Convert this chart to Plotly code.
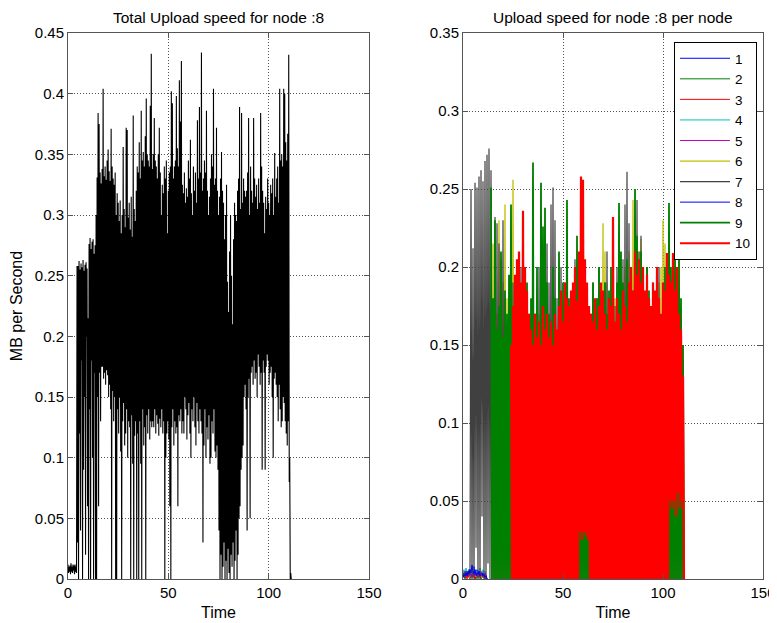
import plotly.graph_objects as go

# ---------------- data (values in thousandths of MB/s) ----------------
# Left panel: total upload speed, local peaks and troughs every 0.5 s
left_peaks = [12, 10, 11, 13, 10, 12, 11, 12, 10, 258,
              258, 262, 255, 260, 257, 263, 254, 259, 261, 256,
              215, 276, 281, 272, 278, 280, 268, 275,
              300, 331, 384, 375, 335, 326,
              338, 404, 332, 340, 329, 345, 354, 336, 328, 371, 340, 330, 325, 335,
              300, 318, 310, 295, 312, 285, 300, 356, 305, 290, 372, 370, 298, 310, 288, 315, 282, 382, 305, 295,
              320, 340, 335, 360, 330, 386, 345, 352, 340, 365, 396, 350, 345, 340, 390, 433,
              338, 350, 380, 345, 340, 330, 350, 372, 335, 300, 325, 318, 340, 330,
              345, 285, 320, 335, 340, 402, 392, 330, 340, 345, 398, 355, 340, 411, 377, 427,
              325, 318, 335, 310, 322, 315, 345, 330, 362, 318, 300, 340, 320, 335, 310, 378, 330, 389,
              335, 434, 320, 330, 345, 335, 386, 320, 300, 315, 330, 350, 340, 404, 325, 330, 372, 320,
              300, 315, 330, 352, 320, 310, 280, 300, 325, 245, 220, 270, 300, 250,
              210, 280, 310, 300, 295, 320, 330, 389, 305, 384, 310, 330, 320, 315,
              320, 335, 380, 300, 340, 320, 310, 380, 330, 315, 325, 305, 330, 310, 384, 340,
              320, 310, 285, 315, 305, 330, 310, 300, 325, 318, 330, 300, 351, 315,
              330, 340, 310, 404, 345, 350, 340, 404, 400, 360, 345, 367, 432, 100, 5]
left_troughs = [5, 6, 4, 6, 5, 7, 4, 6, 5, 30,
                0, 120, 40, 180, 0, 90, 150, 20, 200, 60,
                0, 140, 0, 180, 100, 0, 170, 0,
                0, 150, 60, 170, 130, 175,
                175, 165, 170, 160, 172, 168, 150, 160, 140, 0, 155, 130, 150, 0,
                0, 140, 120, 150, 105, 0, 130, 145, 110, 120, 140, 100, 130, 125, 0, 135, 95, 0, 118, 130,
                0, 120, 0, 130, 95, 0, 140, 110, 125, 0, 135, 120, 140, 115, 130, 125,
                130, 125, 140, 120, 135, 128, 118, 132, 125, 140, 120, 130, 0, 100,
                120, 130, 115, 60, 0, 125, 140, 110, 130, 120, 125, 60, 135, 130, 140, 120,
                130, 120, 150, 140, 115, 135, 145, 120, 100, 140, 130, 150, 125, 110, 145, 130, 120, 140,
                130, 120, 30, 110, 140, 100, 125, 115, 135, 95, 100, 130, 120, 140, 105, 100, 110, 90,
                40, 0, 20, 0, 10, 30, 0, 15, 0, 25, 5, 0, 20, 10,
                30, 0, 15, 40, 0, 20, 50, 60, 90, 100, 110, 150, 160, 140,
                40, 150, 165, 50, 170, 175, 160, 180, 165, 170, 150, 185, 175, 160, 170, 90,
                180, 170, 90, 175, 185, 180, 160, 170, 175, 150, 100, 165, 170, 160,
                150, 130, 160, 140, 125, 130, 150, 145, 130, 120, 110, 130, 80, 0, 0]

# Right panel: per-node upload speed, samples every 0.5 s
node_names = ["1", "2", "3", "4", "5", "6", "7", "8", "9", "10"]
node_start = [0, 0, 0, 0, 0, 14, 0, 0, 14, 24]
node1 = [2, 4, 1, 3, 5, 2, 4, 6, 3, 2, 5, 8, 4, 3, 6, 2, 4, 5, 3, 2, 4, 1, 3, 2, 0]
node2 = [1, 2, 0, 3, 1, 2, 1, 0, 2, 1, 3, 2, 1, 0, 2, 1, 1, 2, 0, 1, 2, 1, 0, 1, 0]
node3 = [3, 1, 4, 2, 0, 3, 1, 5, 2, 4, 1, 3, 0, 2, 4, 1, 3, 2, 5, 1, 2, 3, 1, 2, 0]
node4 = [4, 6, 3, 7, 5, 2, 6, 4, 3, 5, 7, 4, 6, 3, 5, 4, 6, 7, 5, 3, 6, 4, 5, 3, 0]
node5 = [2, 3, 5, 1, 4, 3, 2, 4, 1, 3, 5, 2, 3, 4, 2, 5, 3, 1, 4, 2, 3, 2, 4, 1, 0]
node6 = [120, 0, 215, 0, 200, 0, 170, 0, 230, 0, 150, 0, 190, 0, 240, 0, 180, 0, 160, 0,
         200, 0, 256, 0, 180, 0, 150, 0, 170, 0, 160, 0, 140, 0, 190, 0, 150, 0, 130, 0,
         150, 0, 130, 0, 160, 0, 140, 0, 170, 0, 150, 0, 130, 0, 175, 0, 140, 0, 160, 0,
         150, 0, 140, 0, 170, 0, 160, 0, 150, 0, 180, 0, 160, 0, 140, 0, 170, 0, 150, 0,
         160, 0, 150, 0, 170, 0, 145, 0, 160, 0, 175, 0, 150, 0, 165, 0, 140, 0, 155, 0,
         150, 0, 165, 0, 140, 0, 160, 0, 175, 0, 150, 0, 228, 0, 210, 0, 190, 0, 160, 0,
         170, 0, 150, 0, 180, 0, 160, 0, 175, 0, 190, 0, 170, 0, 200, 0, 180, 0, 210, 0,
         190, 0, 243, 0, 220, 0, 200, 0, 210, 0, 218, 0, 190, 0, 175, 0, 200, 0, 180, 0,
         170, 0, 185, 0, 160, 0, 175, 0, 190, 0, 200, 0, 230, 0, 215, 0, 180, 0, 165, 0,
         180, 0, 200, 0, 215, 0, 190, 0, 205, 0, 170, 0, 150, 0, 0]
node7 = [2, 4, 1, 5, 3, 2, 6, 3,
         250, 0, 212, 0, 254, 20, 251, 0, 258, 0, 262, 40, 255, 0, 268, 0, 272, 10, 276, 0,
         262, 0, 150, 0, 232, 0, 228, 0, 215, 0, 205, 0, 230, 0, 180, 0, 120, 0, 160, 0,
         140, 0, 190, 0, 150, 0, 170, 0, 130, 0, 200, 0, 150, 0, 185, 0, 140, 0, 170, 0,
         160, 0, 190, 0, 140, 0, 175, 0, 200, 0, 150, 0, 185, 0, 170, 0, 215, 0, 190, 0,
         240, 0, 251, 0, 230, 0, 180, 0, 160, 0, 200, 0, 150, 0, 190, 0, 170, 0, 150, 0,
         180, 0, 160, 0, 205, 0, 175, 0, 190, 0, 150, 0, 170, 0, 185, 0, 160, 0, 175, 0,
         150, 0, 190, 0, 170, 0, 180, 0, 200, 0, 160, 0, 175, 0, 190, 0, 210, 0, 180, 0,
         160, 0, 190, 0, 175, 0, 200, 0, 215, 0, 190, 0, 205, 0, 240, 0, 261, 0, 228, 0,
         200, 0, 185, 0, 230, 0, 243, 0, 210, 0, 220, 0, 195, 0, 180, 0, 200, 0, 170, 0,
         160, 0, 190, 0, 180, 0, 175, 0, 200, 0, 165, 0, 180, 0, 170, 0, 150, 0, 140, 0,
         120, 0, 150, 0, 160, 0, 140, 0, 130, 0, 120, 0, 100, 0, 0]
node8 = [1, 3, 2, 4, 2, 5, 3, 6, 4, 9, 5, 3, 6, 2, 4, 3, 5, 2, 3, 4, 2, 3, 1, 2, 0]
node9 = [251, 0, 180, 0, 230, 0, 160, 0, 175, 0, 210, 0, 155, 0, 185, 0, 170, 0, 195, 0,
         240, 0, 150, 0, 170, 0, 200, 0, 130, 0, 160, 0, 215, 0, 150, 0, 190, 0, 140, 0,
         180, 0, 267, 0, 170, 0, 200, 0, 150, 0, 254, 0, 226, 0, 238, 0, 190, 0, 170, 0,
         160, 0, 200, 0, 180, 0, 150, 0, 210, 0, 175, 0, 190, 0, 160, 0, 243, 0, 180, 0,
         150, 0, 175, 0, 190, 0, 220, 0, 160, 0, 170, 0, 200, 0, 150, 0, 180, 0, 165, 0,
         170, 0, 190, 0, 150, 0, 180, 0, 200, 0, 175, 0, 160, 0, 190, 0, 170, 0, 185, 0,
         200, 0, 180, 0, 160, 0, 190, 0, 241, 0, 210, 0, 190, 0, 170, 0, 205, 0, 185, 0,
         195, 0, 180, 0, 250, 0, 220, 0, 200, 0, 210, 0, 190, 0, 175, 0, 200, 0, 185, 0,
         170, 0, 160, 0, 180, 0, 190, 0, 175, 0, 165, 0, 185, 0, 200, 0, 170, 0, 241, 0,
         200, 0, 190, 0, 210, 0, 185, 0, 205, 0, 180, 0, 150, 0, 0]
node10 = [150, 0, 175, 0, 195, 0, 205, 0, 210, 0, 190, 0, 236, 0, 200, 0, 185, 0, 170, 0,
          160, 0, 150, 0, 170, 0, 155, 0, 165, 0, 150, 0, 175, 0, 160, 0, 170, 0, 155, 0,
          165, 0, 150, 0, 170, 0, 160, 0, 175, 0, 185, 0, 165, 0, 190, 0, 180, 0, 175, 0,
          185, 0, 190, 0, 200, 0, 178, 0, 210, 30, 258, 25, 256, 30, 205, 28, 190, 25, 175, 0,
          170, 0, 165, 0, 180, 0, 160, 0, 175, 0, 190, 0, 185, 0, 170, 0, 160, 0, 180, 0,
          175, 0, 232, 0, 165, 0, 180, 0, 170, 0, 160, 0, 185, 0, 175, 0, 165, 0, 190, 0,
          200, 0, 185, 0, 210, 0, 195, 0, 205, 0, 190, 0, 200, 0, 185, 0, 195, 0, 180, 0,
          175, 0, 190, 0, 185, 0, 200, 0, 180, 0, 170, 0, 190, 0, 185, 0, 209, 0, 195, 50,
          190, 45, 209, 50, 185, 40, 200, 55, 170, 45, 160, 50, 130, 0, 0]
node_series = [node1, node2, node3, node4, node5, node6, node7, node8, node9, node10]
node_colors = ["#0000ff", "#008000", "#ff0000", "#00bfbf", "#bf00bf",
               "#bfbf00", "#404040", "#0000ff", "#008000", "#ff0000"]
node_widths = [1, 1, 1, 1, 1, 1.3, 1.2, 1, 1.8, 2.2]

# ---------------- figure ----------------
fig = go.Figure()

# left panel: interleave peaks and troughs
lx, ly = [], []
for i, (p, q) in enumerate(zip(left_peaks, left_troughs)):
    t = i * 0.5
    lx += [t, t + 0.25]
    ly += [p / 1000, q / 1000]
fig.add_trace(go.Scatter(x=lx, y=ly, mode="lines", line=dict(color="black", width=1.1),
                         showlegend=False, xaxis="x", yaxis="y"))

for name, start, vals, col, w in zip(node_names, node_start, node_series, node_colors, node_widths):
    xs = [start + 0.5 * i for i in range(len(vals))]
    ys = [v / 1000 for v in vals]
    fig.add_trace(go.Scatter(x=xs, y=ys, mode="lines", name=name,
                             line=dict(color=col, width=w),
                             xaxis="x2", yaxis="y2"))

# page body has an 8px margin: size the figure so it fits the 777x623 window
OFF = 8
W, H = 777 - OFF, 623 - OFF
ml, mt = 68 - OFF, 33 - OFF
mr = W - (763 - OFF)
mb = H - (579 - OFF)
pw = W - ml - mr
ph = H - mt - mb
d1 = (369 - 68) / pw
d2 = (463 - 68) / pw

axis_common = dict(showline=True, linecolor="#555", linewidth=1, mirror="ticks",
                   ticks="inside", ticklen=5, tickcolor="#555",
                   showgrid=True, gridcolor="#555", griddash="1px,2px", gridwidth=1,
                   zeroline=False, automargin=False, ticklabeloverflow="allow",
                   tickfont=dict(size=15, color="black"))

fig.update_layout(
    width=W, height=H,
    margin=dict(l=ml, r=mr, t=mt, b=mb),
    paper_bgcolor="white", plot_bgcolor="white",
    font=dict(family="Liberation Sans, Arial, sans-serif", color="black", size=15),
    xaxis=dict(domain=[0, d1], range=[0, 150], tickvals=[0, 50, 100, 150],
               title=dict(text="Time", standoff=6, font=dict(size=16)), anchor="y", **axis_common),
    yaxis=dict(domain=[0, 1], range=[0, 0.45], dtick=0.05, tickformat="~g",
               title=dict(text="MB per Second", standoff=8, font=dict(size=16)), anchor="x", **axis_common),
    xaxis2=dict(domain=[d2, 1], range=[0, 150], tickvals=[0, 50, 100, 150],
                title=dict(text="Time", standoff=6, font=dict(size=16)), anchor="y2", **axis_common),
    yaxis2=dict(domain=[0, 1], range=[0, 0.35], dtick=0.05, tickformat="~g",
                anchor="x2", **axis_common),
    legend=dict(x=(757 - 68) / pw, xanchor="right", y=(579 - 42) / ph, yanchor="top",
                bgcolor="white", bordercolor="black", borderwidth=1,
                font=dict(size=13.5), tracegroupgap=0, itemwidth=50),
    annotations=[
        dict(text="Total Upload speed for node :8", x=d1 / 2, y=1, xref="paper", yref="paper",
             xanchor="center", yanchor="bottom", yshift=5, showarrow=False, font=dict(size=15.5)),
        dict(text="Upload speed for node :8 per node", x=(d2 + 1) / 2, y=1, xref="paper", yref="paper",
             xanchor="center", yanchor="bottom", yshift=5, showarrow=False, font=dict(size=15.5)),
    ],
)

fig.write_html("out.html")
